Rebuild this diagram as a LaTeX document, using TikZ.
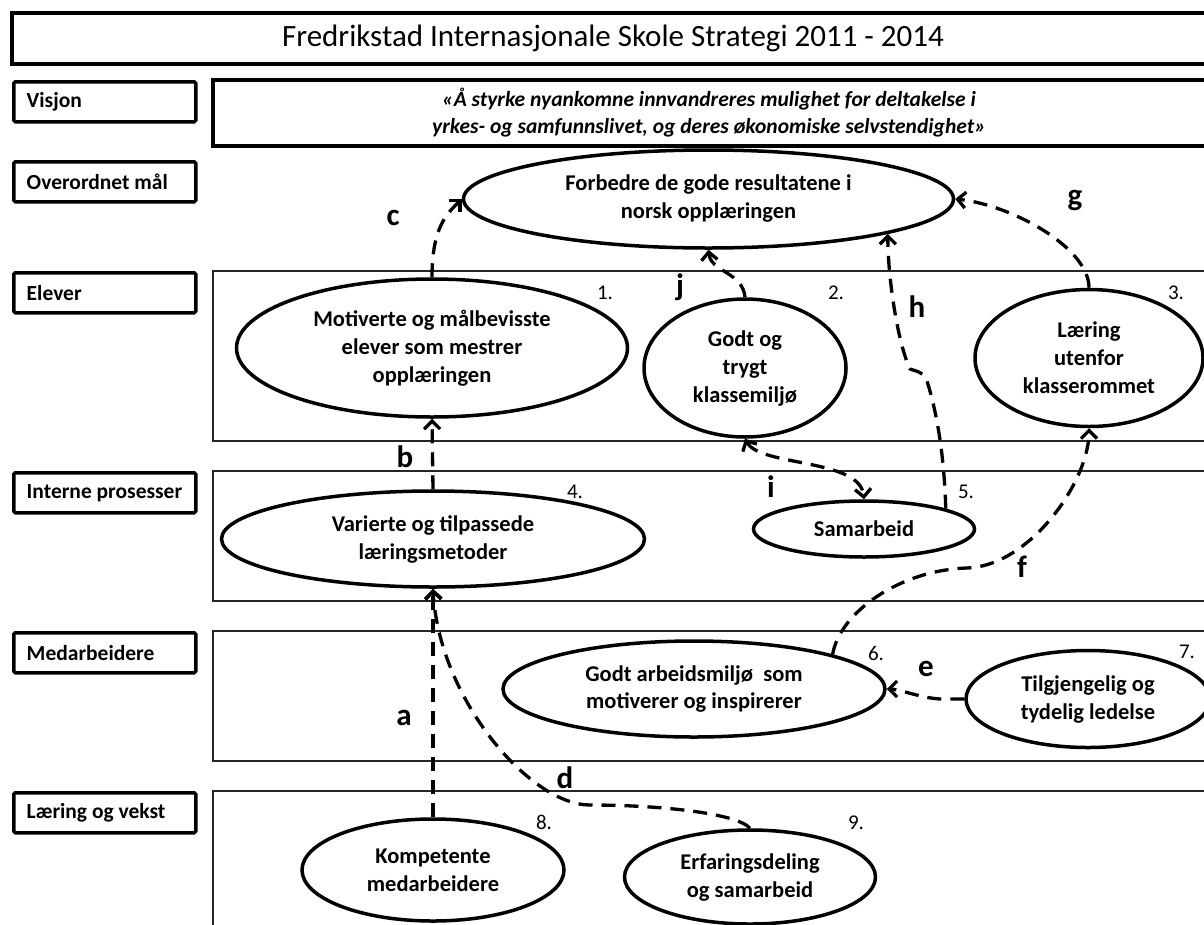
\documentclass[tikz,border=0pt]{standalone}
\usepackage{fontspec}
\setmainfont{Carlito}
\usetikzlibrary{shapes.geometric,arrows.meta}
\begin{document}
\begin{tikzpicture}[x=1pt,y=-1pt,
  lbox/.style={draw,line width=3.5pt,rounded corners=1.5pt,inner xsep=13pt,inner ysep=0pt,
    minimum height=40pt,anchor=north west,font=\fontsize{21.5}{24}\selectfont\bfseries},
  band/.style={draw=black!85,line width=1.3pt},
  oval/.style={draw,ellipse,line width=3.5pt,inner sep=0pt,align=center,
    font=\fontsize{22.5}{28}\selectfont\bfseries},
  tip/.style={Straight Barb[length=8pt,width=16pt,line width=3.3pt]},
  conn/.style={line width=3.3pt,dash pattern=on 14pt off 9pt,-{Straight Barb[length=8pt,width=16pt,line width=3.3pt]}},
  biconn/.style={line width=3.3pt,dash pattern=on 14pt off 9pt,{Straight Barb[length=8pt,width=16pt,line width=3.3pt]}-{Straight Barb[length=8pt,width=16pt,line width=3.3pt]}},
  num/.style={font=\fontsize{21}{24}\selectfont,inner sep=0pt},
  let/.style={font=\fontsize{31}{34}\selectfont\bfseries,inner sep=0pt}]
\useasboundingbox (0,0) rectangle (1204,924);
\clip (0,0) rectangle (1204,924);
\fill[white] (0,0) rectangle (1204,924);

% title and vision
\node[draw,line width=4pt,minimum width=1218pt,minimum height=51pt,inner sep=0pt] (titlebox) at (621,38.5) {};
\node[inner sep=0pt,font=\fontsize{31}{34}\selectfont] (title) at (613,38.5) {Fredrikstad Internasjonale Skole Strategi 2011 - 2014};
\node[draw,line width=3.5pt,minimum width=1017pt,minimum height=66pt,inner sep=0pt] (visionbox) at (721.5,113) {};
\node[inner sep=0pt,align=center,font=\fontsize{21.5}{27}\selectfont\bfseries\itshape] (vision) at (709,113)
  {«Å styrke nyankomne innvandreres mulighet for deltakelse i\\yrkes- og samfunnslivet, og deres økonomiske selvstendighet»};

% left labels
\node[lbox] (lvis) at (12,80) {\makebox[156pt][l]{Visjon}};
\node[lbox] (lmal) at (12,160) {\makebox[156pt][l]{Overordnet mål}};
\node[lbox] (lelev) at (12,271) {\makebox[156pt][l]{Elever}};
\node[lbox] (lint) at (12,471) {\makebox[156pt][l]{Interne prosesser}};
\node[lbox] (lmed) at (12,631) {\makebox[156pt][l]{Medarbeidere}};
\node[lbox] (llar) at (12,791) {\makebox[156pt][l]{Læring og vekst}};

% bands
\draw[band] (213,271) rectangle (1215,441);
\draw[band] (213,471) rectangle (1215,601);
\draw[band] (213,631) rectangle (1215,761);
\draw[band] (213,791) rectangle (1215,940);

% ovals
\node[oval,minimum width=490pt,minimum height=98pt] (goal) at (708.5,199) {Forbedre de gode resultatene i\\norsk opplæringen};
\node[oval,minimum width=391pt,minimum height=138pt] (e1) at (432,348) {Motiverte og målbevisste\\elever som mestrer\\opplæringen};
\node[oval,minimum width=202pt,minimum height=138pt] (e2) at (745,368) {Godt og\\trygt\\klassemiljø};
\node[oval,minimum width=228pt,minimum height=137pt] (e3) at (1089,358) {Læring\\utenfor\\klasserommet};
\node[oval,minimum width=423pt,minimum height=96pt] (e4) at (433,539) {Varierte og tilpassede\\læringsmetoder};
\node[oval,minimum width=221pt,minimum height=56pt] (e5) at (864,529) {Samarbeid};
\node[oval,minimum width=382pt,minimum height=96pt] (e6) at (694,689) {Godt arbeidsmiljø\ \ som\\motiverer og inspirerer};
\node[oval,minimum width=244pt,minimum height=97pt] (e7) at (1088,699) {Tilgjengelig og\\tydelig ledelse};
\node[oval,minimum width=262pt,minimum height=102pt] (e8) at (433,870) {Kompetente\\medarbeidere};
\node[oval,minimum width=251pt,minimum height=94pt] (e9) at (750,877) {Erfaringsdeling\\og samarbeid};

% numbers
\node[num] (n1) at (605,293) {1.};
\node[num] (n2) at (836,293) {2.};
\node[num] (n3) at (1176,293) {3.};
\node[num] (n4) at (575,492) {4.};
\node[num] (n5) at (966,492) {5.};
\node[num] (n6) at (876,653) {6.};
\node[num] (n7) at (1187,652) {7.};
\node[num] (n8) at (544,822) {8.};
\node[num] (n9) at (856,823) {9.};

% connectors
\draw[conn] (e8.north) -- (e4.south);
\draw[conn] (e4.north) -- (e1.south);
\draw[conn] (e1.north) .. controls +(0,-50) and +(-15,15) .. (goal.west);
\draw[conn] (e9.north) .. controls +(-13,-15) and +(70,0) .. (590,805)
  .. controls +(-60,0) and +(6,110) .. (e4.south);
\draw[conn] (e7.west) -- ++(-22,0) .. controls +(-18,0) and +(12,0) .. (e6.east);
\draw[conn] (e6.14) .. controls +(7,-42) and +(-67,2) .. (967,568)
  .. controls +(63,-2) and +(0,53) .. (e3.south);
\draw[conn] (e3.north) .. controls +(0,-40) and +(57,6) .. (goal.east);
\draw[conn] (e5.14) .. controls +(-2,-70) and +(6,18) .. (926,378)
  .. controls +(-4,-6) and +(6,2) .. (910,369)
  .. controls +(-12,-25) and +(0,45) .. (goal.-11.3);
\draw[biconn] (e2.south) .. controls +(15,28) and +(-4,-41) .. (e5.north);
\draw[conn] (e2.north) .. controls +(-2,-25) and +(2,22) .. (goal.south);

% connector letters
\node[let] (la) at (404,718) {a};
\node[let] (lb) at (405,457) {b};
\node[let] (lc) at (393,218) {c};
\node[let] (ld) at (565,778) {d};
\node[let] (le) at (926,669) {e};
\node[let] (lf) at (1022,567) {f};
\node[let] (lg) at (1075,200) {g};
\node[let] (lh) at (917,307) {h};
\node[let] (li) at (771,487) {i};
\node[let] (lj) at (680,287) {j};
\end{tikzpicture}
\end{document}
